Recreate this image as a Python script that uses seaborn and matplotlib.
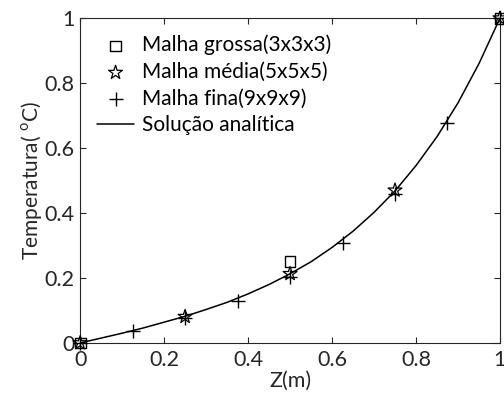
import numpy as np
import pandas as pd
import matplotlib
matplotlib.use("Agg")
import matplotlib.pyplot as plt
import seaborn as sns

# Data
z_grossa = [0.0, 0.5, 1.0]
t_grossa = [0.0, 0.25, 1.0]

z_media = [0.0, 0.25, 0.5, 0.75, 1.0]
t_media = [0.0, 0.081, 0.213, 0.470, 1.0]

z_fina = [0.0, 0.125, 0.25, 0.375, 0.5, 0.625, 0.75, 0.875, 1.0]
t_fina = [0.0, 0.038, 0.078, 0.130, 0.203, 0.307, 0.458, 0.678, 1.0]

z_analit = [0.0, 0.05, 0.1, 0.15, 0.2, 0.25, 0.3, 0.35, 0.4, 0.45, 0.5,
            0.55, 0.6, 0.65, 0.7, 0.75, 0.8, 0.85, 0.9, 0.95, 1.0]
t_analit = [0.0, 0.015, 0.030, 0.046, 0.064, 0.082, 0.103, 0.125, 0.151,
            0.180, 0.213, 0.250, 0.294, 0.344, 0.402, 0.468, 0.546, 0.635,
            0.739, 0.860, 1.0]

labels = ["Malha grossa(3x3x3)", "Malha média(5x5x5)", "Malha fina(9x9x9)",
          "Solução analítica"]
xticks = [0, 0.2, 0.4, 0.6, 0.8, 1]
yticks = [0, 0.2, 0.4, 0.6, 0.8, 1]
ticklabels = ["0", "0.2", "0.4", "0.6", "0.8", "1"]

sns.set_style("white")
plt.rcParams['font.family'] = ['Lato', 'DejaVu Sans']
plt.rcParams['mathtext.fontset'] = 'custom'
plt.rcParams['mathtext.rm'] = 'Lato'

fig = plt.figure(figsize=(5.04, 4.03), dpi=100)
ax = fig.add_axes([0.159, 0.149, 0.833, 0.806])

df_g = pd.DataFrame({"z": z_grossa, "t": t_grossa})
df_m = pd.DataFrame({"z": z_media, "t": t_media})
df_f = pd.DataFrame({"z": z_fina, "t": t_fina})
df_a = pd.DataFrame({"z": z_analit, "t": t_analit})

sns.scatterplot(data=df_g, x="z", y="t", ax=ax, marker="s", s=60,
                facecolors="none", edgecolor="black", linewidth=1.0,
                label=labels[0], zorder=3, clip_on=False)
sns.scatterplot(data=df_m, x="z", y="t", ax=ax, marker="*", s=110,
                facecolors="none", edgecolor="black", linewidth=0.9,
                label=labels[1], zorder=3, clip_on=False)
sns.scatterplot(data=df_f, x="z", y="t", ax=ax, marker="+", s=90,
                color="black", linewidth=1.0, label=labels[2], zorder=3,
                clip_on=False)
sns.lineplot(data=df_a, x="z", y="t", ax=ax, color="black", linewidth=1.1,
             label=labels[3], zorder=2)

ax.set_xlim(0, 1)
ax.set_ylim(0, 1)
ax.set_xticks(xticks)
ax.set_yticks(yticks)
ax.set_xticklabels(ticklabels)
ax.set_yticklabels(ticklabels)
ax.tick_params(direction="in", length=4, width=0.8, colors="#262626",
               labelsize=15.5, top=True, right=True, bottom=True, left=True)
ax.tick_params(axis="x", pad=5)
ax.tick_params(axis="y", pad=4)
for sp in ax.spines.values():
    sp.set_color("#262626")
    sp.set_linewidth(0.8)
ax.set_xlabel("Z(m)", fontsize=15.5, color="#262626", labelpad=1)
ax.set_ylabel("Temperatura( $^{\\mathregular{o}}$C)", fontsize=15,
              color="#262626", labelpad=0)

leg = ax.legend(loc="upper left", frameon=False, fontsize=15,
                handlelength=1.8, handletextpad=0.35, borderaxespad=0.4,
                borderpad=0.4, labelspacing=0.32)
for t in leg.get_texts():
    t.set_color("black")

fig.savefig("out.png", dpi=100)
